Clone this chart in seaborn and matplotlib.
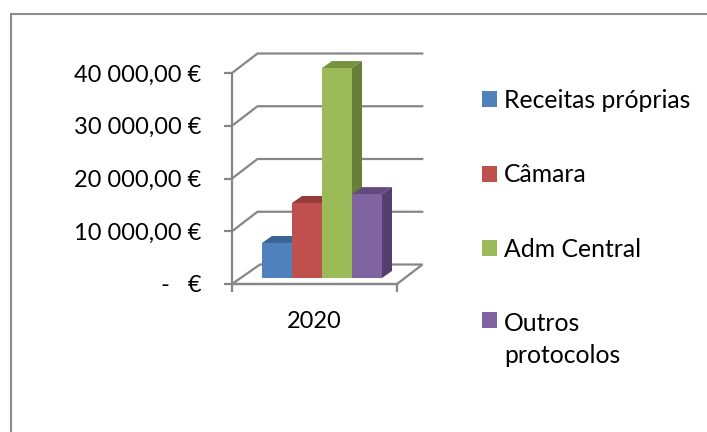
import matplotlib
matplotlib.use("Agg")
import matplotlib.pyplot as plt
import seaborn as sns
import pandas as pd
from matplotlib.lines import Line2D
from matplotlib.patches import Polygon
from matplotlib.ticker import FixedLocator, FuncFormatter

years = ["2020"]
series = ["Receitas próprias", "Câmara", "Adm Central", "Outros\nprotocolos"]
values = [6640, 14220, 39800, 15900]
yticks = [0, 10000, 20000, 30000, 40000]
ytick_labels = ["-   €", "10 000,00 €", "20 000,00 €", "30 000,00 €", "40 000,00 €"]
colors = ["#4F81BD", "#C0504D", "#9BBB59", "#8064A2"]
tops = ["#3A6494", "#953B39", "#77923F", "#624A80"]
sides = ["#3A5F8B", "#8E3A38", "#66803A", "#533E6E"]
GREY = "#868686"

W, H = 707, 432
sns.set_theme(style="white")
plt.rcParams["font.family"] = ["Lato", "DejaVu Sans"]
fig = plt.figure(figsize=(W / 100, H / 100), dpi=100, facecolor="white")


def rect(x0, x1, ytop, ybot):
    return [x0 / W, 1 - ybot / H, (x1 - x0) / W, (ybot - ytop) / H]


FS = 17
LFS = 17.8
ax = fig.add_axes(rect(232, 397, 73, 284))
ax.set_xlim(-0.5, 0.5)
ax.set_ylim(0, 40000)
ax.patch.set_alpha(0)
px_x = 1 / 165
px_y = 40000 / 211

# walls and floor
dx, dy = 25.5 * px_x, 19.5 * px_y
for v in yticks[1:]:
    ax.plot([-0.5, -0.5 + dx, 0.5 + dx], [v, v + dy, v + dy], color=GREY, lw=1.6,
            clip_on=False, solid_joinstyle="miter", zorder=1)
ax.add_patch(Polygon([(-0.5, 0), (-0.5 + 28 * px_x, dy), (0.5 + dx, dy), (0.5, 0)],
                     closed=True, facecolor="white", edgecolor=GREY, lw=1.6,
                     clip_on=False, zorder=1))

for s in ["top", "right"]:
    ax.spines[s].set_visible(False)
for s in ["left", "bottom"]:
    ax.spines[s].set_color(GREY)
    ax.spines[s].set_linewidth(1.6)
ax.yaxis.set_major_locator(FixedLocator(yticks))
ax.yaxis.set_major_formatter(FuncFormatter(lambda v, p: ytick_labels[yticks.index(int(v))]))
ax.tick_params(axis="y", length=6, width=1.6, color=GREY, left=True, pad=16,
               labelsize=FS, labelcolor="black")
ax.set_xticks([0], labels=years)
ax.set_xticks([-0.5, 0.5], minor=True)
ax.tick_params(axis="x", which="major", length=0, pad=19.5, labelsize=FS, labelcolor="black")
ax.tick_params(axis="x", which="minor", length=6, width=1.6, color=GREY, bottom=True)

# bar layer: same scales, shifted onto the middle of the floor depth
bx = fig.add_axes(rect(239.5, 404.5, 67, 278))
df = pd.DataFrame({"year": years * 4, "serie": series, "valor": values})
sns.barplot(data=df, x="year", y="valor", hue="serie", palette=colors, width=120 / 165,
            gap=0, saturation=1, ax=bx, legend=False, hue_order=series)
bx.set_xlim(-0.5, 0.5)
bx.set_ylim(0, 40000)
bx.axis("off")
bx.patch.set_alpha(0)
ox, oy = 10 * px_x, 7 * px_y
for i, cont in enumerate(bx.containers):
    for p in cont:
        x0, x1, v = p.get_x(), p.get_x() + p.get_width(), p.get_height()
        p.set_zorder(3 + 2 * i + 1)
        p.set_clip_on(False)
        p.set_edgecolor("none")
        p.set_linewidth(0)
        bx.add_patch(Polygon([(x0, v), (x1, v), (x1 + ox, v + oy), (x0 + ox, v + oy)],
                             closed=True, fc=tops[i], ec="none", clip_on=False, zorder=3 + 2 * i))
        bx.add_patch(Polygon([(x1, 0), (x1 + ox, oy), (x1 + ox, v + oy), (x1, v)],
                             closed=True, fc=sides[i], ec="none", clip_on=False, zorder=3 + 2 * i))

handles = [c[0] for c in bx.containers]
leg = fig.legend(handles, series, loc="upper left", bbox_to_anchor=(482 / W, 1 - 89 / H),
                 bbox_transform=fig.transFigure, frameon=False, fontsize=LFS,
                 handlelength=0.6, handleheight=0.6, handletextpad=0.28, labelspacing=2.08,
                 labelcolor="black", borderpad=0, borderaxespad=0)
leg.get_texts()[3].set_linespacing(1.45)
# square beside the first line of the two-line entry
rows = leg._legend_handle_box.get_children()[0].get_children()
rows[3].align = "top"

# chart frame
for xs, ys in [([11, 11], [0, 418]), ([11, 707], [418, 418])]:
    fig.add_artist(Line2D([x / W for x in xs], [y / H for y in ys],
                          color="#8C8C8C", lw=1.5, transform=fig.transFigure))

fig.savefig("out.png", dpi=100, facecolor="white")
